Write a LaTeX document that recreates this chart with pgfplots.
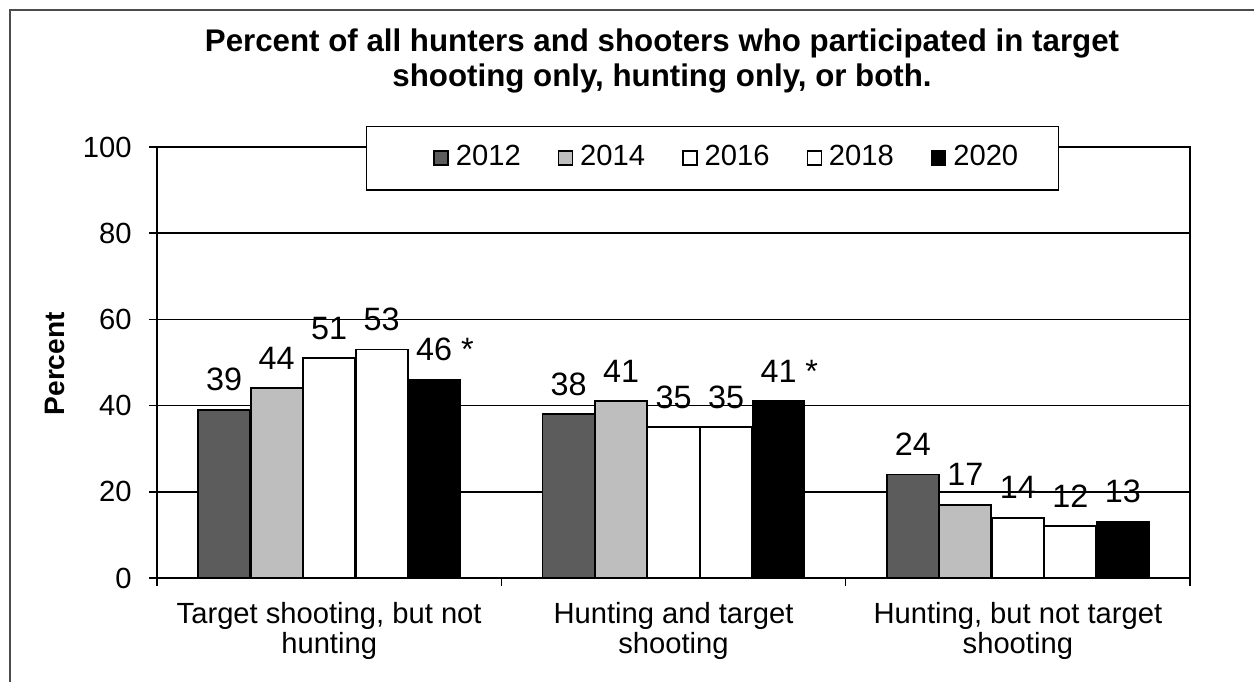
\documentclass[border=0pt]{standalone}
\usepackage{fontspec}
\setmainfont{Liberation Sans}
\usepackage{pgfplots}
\pgfplotsset{compat=1.18}
\definecolor{c12}{RGB}{92,92,92}
\definecolor{c14}{RGB}{190,190,190}
\newcommand{\tfont}{\fontsize{8.3}{8.6}\selectfont}
\pgfplotsset{
  firstleg/.style={legend image code/.code={\path (-3.4mm,0); \draw[##1, line width=0.4pt] (0mm,-0.7mm) rectangle (1.4mm,0.7mm);}},
}
\begin{document}
\begin{tikzpicture}
\useasboundingbox (0,0) rectangle (125.4mm,68.2mm);
\draw[black!70, line width=0.3pt] (1.0mm,0) -- (1.0mm,67.2mm) -- (125.4mm,67.2mm);
\node[anchor=base, font=\fontsize{8.9}{10}\selectfont\bfseries] at (66.2mm,63.0mm)
  {Percent of all hunters and shooters who participated in target};
\node[anchor=base, font=\fontsize{8.9}{10}\selectfont\bfseries] at (66.2mm,59.5mm)
  {shooting only, hunting only, or both.};
\begin{axis}[
  at={(15.7mm,10.4mm)}, anchor=south west,
  scale only axis, width=103.3mm, height=43.1mm,
  xmin=-0.5, xmax=2.5, ymin=0, ymax=100,
  ytick={0,20,...,100},
  ymajorgrids, grid style={black, line width=0.4pt},
  axis line style={line width=0.8pt},
  tick align=outside,
  xtick pos=bottom, ytick pos=left,
  major tick length=0.8mm, minor tick length=0.8mm,
  tick style={black, line width=0.4pt},
  xtick={0,1,2},
  major x tick style={draw=none},
  minor xtick={-0.5,0.5,1.5,2.5},
  xticklabels={{Target shooting, but not\\hunting},{Hunting and target\\shooting},{Hunting, but not target\\shooting}},
  xticklabel style={align=center, font=\tfont, yshift=-0.4mm},
  yticklabel style={font=\tfont, xshift=-0.5mm},
  /pgf/number format/assume math mode=true,
  ylabel={\bfseries Percent},
  ylabel style={at={(axis description cs:-0.099,0.497)}, anchor=center, font=\fontsize{8}{9}\selectfont},
  ybar=0pt, bar width=5.2mm,
  point meta=explicit symbolic,
  nodes near coords,
  nodes near coords style={anchor=base, yshift=1.9mm, font=\fontsize{9.2}{10}\selectfont, black},
  legend columns=5,
  legend style={at={(0.5375,0.974)}, anchor=center, draw=black, line width=0.4pt, fill=white,
    font=\tfont, inner xsep=3.3mm, inner ysep=1.2mm,
    /tikz/every even column/.append style={column sep=3mm}},
  legend image code/.code={\draw[#1, line width=0.4pt] (0mm,-0.7mm) rectangle (1.4mm,0.7mm);},
]
\addplot[bar shift=-10.5mm, fill=c12, draw=black, line width=0.5pt, firstleg]
  coordinates {(0,39) [39] (1,38) [38] (2,24) [24]};
\addplot[bar shift=-5.25mm, fill=c14, draw=black, line width=0.5pt]
  coordinates {(0,44) [44] (1,41) [41] (2,17) [17]};
\addplot[bar shift=0mm, fill=white, draw=black, line width=0.5pt]
  coordinates {(0,51) [51] (1,35) [35] (2,14) [14]};
\addplot[bar shift=5.25mm, fill=white, draw=black, line width=0.5pt]
  coordinates {(0,53) [53] (1,35) [35] (2,12) [12]};
\addplot[bar shift=10.5mm, fill=black, draw=black, line width=0.5pt]
  coordinates {(0,46) [46\rlap{ *}] (1,41) [41\rlap{ *}] (2,13) [13]};
\legend{2012,2014,2016,2018,2020}
\end{axis}
\end{tikzpicture}
\end{document}
